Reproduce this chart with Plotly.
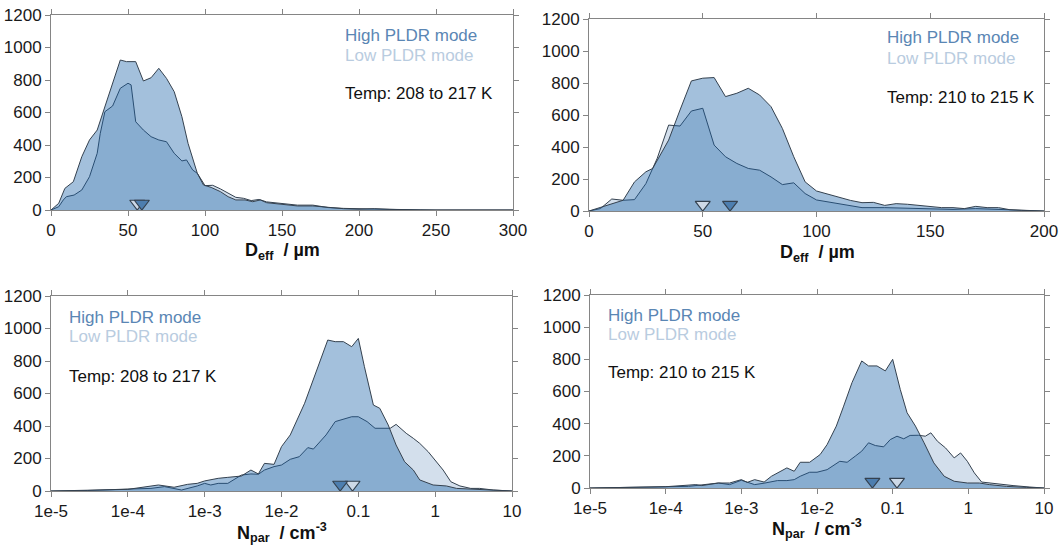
import plotly.graph_objects as go

# ---------------- DATA ----------------
# Panel 1: D_eff distribution, Temp 208-217 K
p1_x_high = [0, 5, 9, 14.5, 20, 25, 30, 35, 40, 45, 49, 55, 60, 65, 70, 75, 80, 85, 89, 95, 99, 104, 110, 115, 120, 126, 131, 136, 140, 150, 160, 170, 180, 190, 200, 210, 220, 230, 250, 300]
p1_y_high = [0, 41, 133, 174, 328, 431, 492, 636, 780, 923, 913, 913, 794, 814, 872, 810, 728, 574, 410, 226, 154, 139, 113, 82, 62, 62, 51, 62, 45, 35, 25, 25, 15, 8, 5, 8, 4, 2, 0, 0]
p1_x_low = [0, 5, 8, 10, 15, 20, 25, 30, 32, 35, 40, 45, 50, 52, 55, 60, 65, 70, 75, 80, 85, 88, 92, 95, 100, 105, 110, 115, 120, 125, 130, 135, 140, 150, 160, 170, 180, 190, 200, 210, 220, 230, 240, 300]
p1_y_low = [0, 20, 62, 82, 92, 123, 205, 349, 472, 605, 640, 749, 780, 770, 543, 492, 451, 431, 420, 349, 302, 308, 246, 226, 150, 152, 130, 105, 78, 72, 58, 65, 50, 40, 30, 30, 15, 10, 8, 10, 5, 2, 0, 0]
p1_med_x = [59, 56]          # High, Low
p1_med_y = [40, 40]

# Panel 2: D_eff distribution, Temp 210-215 K
p2_x_high = [0, 5, 10, 15, 20, 25, 28, 30, 35, 40, 45, 50, 55, 60, 65, 70, 75, 80, 85, 90, 95, 100, 105, 110, 115, 120, 125, 130, 135, 140, 145, 150, 155, 160, 165, 170, 175, 180, 185, 190, 200]
p2_y_high = [0, 21, 46, 67, 182, 245, 266, 318, 443, 631, 813, 830, 834, 715, 736, 767, 725, 652, 516, 339, 182, 125, 104, 87, 66, 52, 54, 35, 46, 42, 35, 25, 21, 21, 15, 29, 21, 21, 8, 4, 0]
p2_x_low = [0, 5, 10, 15, 20, 25, 30, 35, 40, 45, 50, 55, 60, 65, 70, 75, 80, 85, 90, 95, 100, 105, 110, 115, 120, 130, 140, 150, 160, 170, 180, 190, 200]
p2_y_low = [0, 15, 75, 67, 71, 171, 330, 537, 531, 625, 642, 412, 339, 297, 266, 255, 213, 165, 176, 109, 69, 56, 46, 31, 21, 21, 17, 15, 10, 15, 10, 4, 0]
p2_med_x = [62, 50]
p2_med_y = [40, 40]

# Panel 3: N_par distribution, Temp 208-217 K
p3_x_high = [1e-5, 3e-5, 1e-4, 2.5e-4, 4e-4, 6e-4, 8e-4, 1e-3, 1.5e-3, 2e-3, 3e-3, 4e-3, 5e-3, 6e-3, 8e-3, 1e-2, 1.3e-2, 2e-2, 3e-2, 0.04, 0.05, 0.064, 0.082, 0.1, 0.12, 0.157, 0.19, 0.245, 0.31, 0.4, 0.52, 0.63, 0.94, 1.4, 1.9, 3.1, 5.2, 10]
p3_y_high = [0, 3, 10, 37, 23, 41, 47, 62, 78, 84, 92, 129, 105, 170, 164, 273, 345, 540, 765, 929, 919, 919, 888, 939, 765, 529, 509, 406, 283, 180, 129, 68, 37, 31, 16, 10, 6, 0]
p3_x_low = [1e-5, 3e-5, 1e-4, 2e-4, 3e-4, 4e-4, 5e-4, 8e-4, 1e-3, 1.2e-3, 1.5e-3, 2e-3, 2.5e-3, 3e-3, 4e-3, 5e-3, 6e-3, 8e-3, 1e-2, 1.3e-2, 1.7e-2, 2.2e-2, 2.6e-2, 3.2e-2, 3.8e-2, 0.05, 0.064, 0.082, 0.1, 0.13, 0.165, 0.21, 0.26, 0.31, 0.42, 0.52, 0.63, 0.81, 1.04, 1.27, 1.6, 2.1, 2.9, 3.8, 5.7, 8.4, 10]
p3_y_low = [0, 3, 12, 16, 27, 16, 6, 31, 47, 37, 47, 47, 78, 98, 105, 103, 129, 150, 160, 195, 211, 267, 258, 304, 345, 427, 441, 457, 457, 427, 386, 386, 386, 410, 355, 324, 293, 242, 180, 129, 57, 31, 16, 16, 6, 3, 0]
p3_med_x = [0.058, 0.084]
p3_med_y = [40, 40]

# Panel 4: N_par distribution, Temp 210-215 K
p4_x_high = [1e-5, 4e-5, 1e-4, 2.5e-4, 3e-4, 5e-4, 7e-4, 1e-3, 1.2e-3, 1.5e-3, 2e-3, 2.5e-3, 3e-3, 4e-3, 5e-3, 6e-3, 8e-3, 1.1e-2, 1.36e-2, 1.8e-2, 2.25e-2, 2.9e-2, 3.9e-2, 4.8e-2, 6.2e-2, 8e-2, 0.1, 0.126, 0.155, 0.2, 0.26, 0.35, 0.48, 0.65, 0.97, 1.4, 1.9, 3.2, 5.9, 10]
p4_y_high = [0, 5, 8, 21, 15, 31, 31, 52, 35, 52, 37, 73, 94, 125, 104, 160, 160, 208, 270, 385, 509, 655, 790, 759, 759, 728, 800, 613, 468, 385, 281, 156, 73, 42, 31, 31, 21, 10, 4, 0]
p4_x_low = [1e-5, 4e-5, 1e-4, 2e-4, 5e-4, 7e-4, 1e-3, 1.3e-3, 1.5e-3, 2e-3, 3e-3, 4e-3, 5e-3, 6e-3, 8e-3, 1e-2, 1.36e-2, 2e-2, 2.5e-2, 3.2e-2, 3.9e-2, 4.8e-2, 5.9e-2, 7.6e-2, 9.3e-2, 0.114, 0.14, 0.17, 0.22, 0.27, 0.32, 0.39, 0.5, 0.65, 0.79, 0.97, 1.2, 1.5, 1.9, 2.6, 3.9, 6.5, 10]
p4_y_low = [0, 4, 4, 10, 31, 21, 48, 30, 21, 30, 46, 46, 52, 73, 98, 98, 114, 166, 160, 198, 229, 281, 264, 256, 301, 322, 306, 327, 328, 322, 343, 291, 249, 187, 218, 166, 94, 37, 31, 21, 15, 6, 0]
p4_med_x = [0.054, 0.114]
p4_med_y = [40, 40]

series_names = ["High PLDR mode", "Low PLDR mode"]
temps = ["Temp: 208 to 217 K", "Temp: 210 to 215 K", "Temp: 208 to 217 K", "Temp: 210 to 215 K"]
x_titles = ["<b>D<sub>eff</sub>  / µm</b>", "<b>D<sub>eff</sub>  / µm</b>",
            "<b>N<sub>par</sub>  / cm<sup>-3</sup></b>", "<b>N<sub>par</sub>  / cm<sup>-3</sup></b>"]
log_tickvals = [1e-5, 1e-4, 1e-3, 1e-2, 0.1, 1, 10]
log_ticktext = ["1e-5", "1e-4", "1e-3", "1e-2", "0.1", "1", "10"]

# ---------------- STYLE ----------------
FONT = "Liberation Sans, Arial, sans-serif"
FILL_HIGH = "rgba(25,98,168,0.40)"
FILL_LOW = "rgba(145,175,208,0.40)"
EDGE = "#34414f"
TRI_HIGH = "#4d7eaf"
TRI_LOW = "#cdd9e7"
TXT_HIGH = "#5a86b4"
TXT_LOW = "#b9cce0"

fig = go.Figure()

panels = [
    (p1_x_high, p1_y_high, p1_x_low, p1_y_low, p1_med_x, p1_med_y, "x", "y"),
    (p2_x_high, p2_y_high, p2_x_low, p2_y_low, p2_med_x, p2_med_y, "x2", "y2"),
    (p3_x_high, p3_y_high, p3_x_low, p3_y_low, p3_med_x, p3_med_y, "x3", "y3"),
    (p4_x_high, p4_y_high, p4_x_low, p4_y_low, p4_med_x, p4_med_y, "x4", "y4"),
]

for xh, yh, xl, yl, mx, my, xa, ya in panels:
    fig.add_trace(go.Scatter(x=xl, y=yl, mode="lines", fill="tozeroy", fillcolor=FILL_LOW,
                             line=dict(color=EDGE, width=1), name=series_names[1],
                             xaxis=xa, yaxis=ya, showlegend=False))
    fig.add_trace(go.Scatter(x=xh, y=yh, mode="lines", fill="tozeroy", fillcolor=FILL_HIGH,
                             line=dict(color=EDGE, width=1), name=series_names[0],
                             xaxis=xa, yaxis=ya, showlegend=False))
    fig.add_trace(go.Scatter(x=[mx[1]], y=[my[1]], mode="markers",
                             marker=dict(symbol="triangle-down", size=13, color=TRI_LOW,
                                         line=dict(color=EDGE, width=1.2)),
                             xaxis=xa, yaxis=ya, showlegend=False, cliponaxis=False))
    fig.add_trace(go.Scatter(x=[mx[0]], y=[my[0]], mode="markers",
                             marker=dict(symbol="triangle-down", size=13, color=TRI_HIGH,
                                         line=dict(color=EDGE, width=1.2)),
                             xaxis=xa, yaxis=ya, showlegend=False, cliponaxis=False))

W, H = 1059, 547

def fx(px):
    return px / W

def fy(py):
    return 1 - py / H

axis_common = dict(showline=True, linecolor="#858585", linewidth=1, mirror="ticks",
                   ticks="outside", ticklen=5, tickcolor="#858585", showgrid=False,
                   zeroline=False, automargin=False,
                   tickfont=dict(family=FONT, size=17, color="#1a1a1a"))

fig.update_layout(
    width=W, height=H, margin=dict(l=0, r=0, t=0, b=0, autoexpand=False),
    paper_bgcolor="white", plot_bgcolor="white", showlegend=False,
    xaxis=dict(domain=[fx(51), fx(513)], range=[0, 300], dtick=50, anchor="y", **axis_common),
    yaxis=dict(domain=[fy(210), fy(15)], range=[0, 1200], dtick=200, anchor="x", **axis_common),
    xaxis2=dict(domain=[fx(589), fx(1044)], range=[0, 200], dtick=50, anchor="y2", **axis_common),
    yaxis2=dict(domain=[fy(211), fy(19)], range=[0, 1200], dtick=200, anchor="x2", **axis_common),
    xaxis3=dict(domain=[fx(51), fx(512)], type="log", range=[-5, 1], tickvals=log_tickvals,
                ticktext=log_ticktext, anchor="y3", **axis_common),
    yaxis3=dict(domain=[fy(491), fy(296)], range=[0, 1200], dtick=200, anchor="x3", **axis_common),
    xaxis4=dict(domain=[fx(590), fx(1044)], type="log", range=[-5, 1], tickvals=log_tickvals,
                ticktext=log_ticktext, anchor="y4", **axis_common),
    yaxis4=dict(domain=[fy(488), fy(295)], range=[0, 1200], dtick=200, anchor="x4", **axis_common),
)

# axis titles
title_pos = [(282, 251), (817, 254), (282, 532), (817, 528)]
for (tx, ty), t in zip(title_pos, x_titles):
    fig.add_annotation(x=fx(tx), y=fy(ty), xref="paper", yref="paper", xanchor="center", yanchor="middle",
                       text=t, showarrow=False, font=dict(family=FONT, size=18, color="#111"))

label_pos = [(343, 35, 55, 93), (885, 38, 58, 97), (67, 317, 336, 376), (606, 315, 334, 372)]
for (lx, yh, yl, yt), temp in zip(label_pos, temps):
    fig.add_annotation(x=fx(lx), y=fy(yh), xref="paper", yref="paper", xanchor="left", yanchor="middle",
                       text=series_names[0], showarrow=False, font=dict(family=FONT, size=17, color=TXT_HIGH))
    fig.add_annotation(x=fx(lx), y=fy(yl), xref="paper", yref="paper", xanchor="left", yanchor="middle",
                       text=series_names[1], showarrow=False, font=dict(family=FONT, size=17, color=TXT_LOW))
    fig.add_annotation(x=fx(lx), y=fy(yt), xref="paper", yref="paper", xanchor="left", yanchor="middle",
                       text=temp, showarrow=False, font=dict(family=FONT, size=17, color="#111"))

fig.write_html("out.html", config={"displayModeBar": False},
               post_script="document.body.style.margin='0px';document.body.style.overflow='hidden';")
